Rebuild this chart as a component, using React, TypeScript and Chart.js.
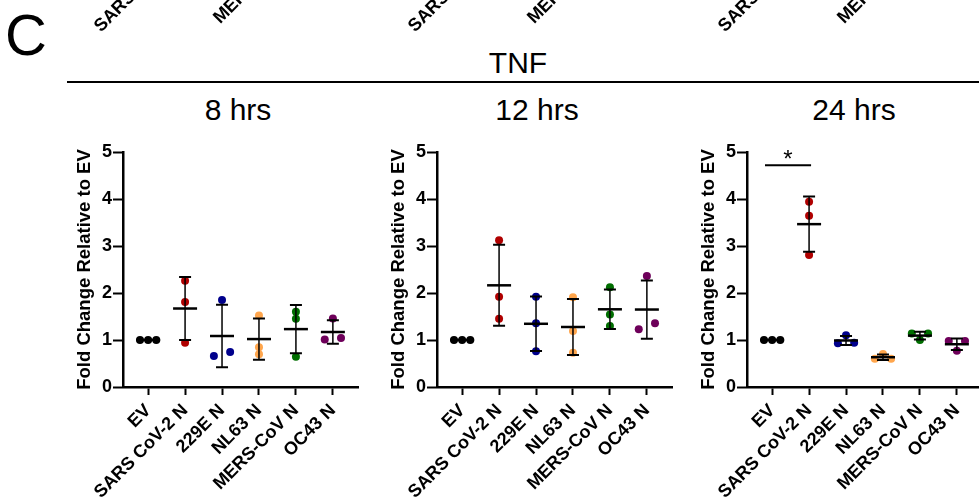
import { useEffect, useRef } from "react";
import { Chart, registerables } from "chart.js";

Chart.register(...registerables);

const FONT = "'Liberation Sans', Arial, Helvetica, sans-serif";

// Groups on the x axis and their dot colours
const categories = ["EV", "SARS CoV-2 N", "229E N", "NL63 N", "MERS-CoV N", "OC43 N"];
const groupColors = ["#000000", "#B00000", "#00008C", "#FFA64D", "#006E00", "#6E005A"];
const yTicks = [0, 1, 2, 3, 4, 5];

// TNF fold change relative to EV, three replicates per group
const tnf8h = [
  [1, 1, 1],
  [2.26, 1.81, 0.94],
  [1.85, 0.66, 0.745],
  [1.52, 0.845, 0.695],
  [1.6, 1.45, 0.645],
  [1.46, 1.01, 1.04],
];
const tnf12h = [
  [1, 1, 1],
  [3.12, 1.92, 1.45],
  [1.92, 1.355, 0.76],
  [1.91, 1.19, 0.73],
  [2.12, 1.54, 1.3],
  [2.36, 1.23, 1.355],
];
const tnf24h = [
  [1, 1, 1],
  [3.94, 3.645, 2.81],
  [1.1, 0.93, 0.94],
  [0.7, 0.6, 0.6],
  [1.0, 1.14, 1.14],
  [0.98, 0.77, 0.98],
];

const panelTitles = ["8 hrs", "12 hrs", "24 hrs"];
const panelData = [tnf8h, tnf12h, tnf24h];
// significance bracket between EV and SARS CoV-2 N at 24 hrs
const sig24h = { from: 0, to: 1, y: 4.72, text: "*" };

// layout
const AXIS_X = [123, 437, 747];
const TITLE_X = [238, 537, 854];
const Y_AXIS_W = 52;
const PLOT_W = 235;
const PLOT_TOP = 152;
const X_AXIS_H = 113;
const CANVAS_H = 500;
const JITTER = 0.22;
const ROW_TOL = 0.13;
const UPPER_ROW_SHIFT = 466;

// horizontal spread for replicates that would overlap
function spreadSlots(vals: number[]): number[] {
  const idx = vals.map((_, i) => i).sort((a, b) => vals[a] - vals[b]);
  const rows: number[][] = [];
  for (const i of idx) {
    const last = rows[rows.length - 1];
    if (last && vals[i] - vals[last[last.length - 1]] < ROW_TOL) last.push(i);
    else rows.push([i]);
  }
  const slots = new Array(vals.length).fill(0);
  for (const row of rows) {
    if (row.length === 2) {
      slots[row[0]] = -1;
      slots[row[1]] = 1;
    } else if (row.length >= 3) {
      const [a, b, c] = row;
      if (vals[b] - vals[a] <= vals[c] - vals[b]) {
        slots[a] = -1;
        slots[b] = 1;
        slots[c] = 0;
      } else {
        slots[a] = 0;
        slots[b] = -1;
        slots[c] = 1;
      }
    }
  }
  return slots;
}

function meanSd(vals: number[]) {
  const m = vals.reduce((s, v) => s + v, 0) / vals.length;
  const v = vals.reduce((s, x) => s + (x - m) * (x - m), 0) / (vals.length - 1);
  return { mean: m, sd: Math.sqrt(v) };
}

// mean line with SD whiskers, drawn over the dots
const meanSdPlugin = {
  id: "meanSd",
  afterDatasetsDraw(chart: any, _args: any, opts: any) {
    const groups: number[][] = opts.groups;
    if (!groups) return;
    const { ctx } = chart;
    const xs = chart.scales.x;
    const ys = chart.scales.y;
    ctx.save();
    ctx.strokeStyle = "#000";
    groups.forEach((vals, gi) => {
      const { mean, sd } = meanSd(vals);
      const x = xs.getPixelForValue(gi);
      const yTop = ys.getPixelForValue(mean + sd);
      const yBot = ys.getPixelForValue(mean - sd);
      const yMean = ys.getPixelForValue(mean);
      ctx.lineWidth = 1.5;
      ctx.beginPath();
      ctx.moveTo(x, yTop);
      ctx.lineTo(x, yBot);
      ctx.stroke();
      ctx.lineWidth = 2;
      ctx.beginPath();
      ctx.moveTo(x - 6, yTop);
      ctx.lineTo(x + 6, yTop);
      ctx.moveTo(x - 6, yBot);
      ctx.lineTo(x + 6, yBot);
      ctx.stroke();
      ctx.lineWidth = 2.5;
      ctx.beginPath();
      ctx.moveTo(x - 12, yMean);
      ctx.lineTo(x + 12, yMean);
      ctx.stroke();
    });
    ctx.restore();
  },
};

// significance bracket with its star
const sigPlugin = {
  id: "sigBracket",
  afterDatasetsDraw(chart: any, _args: any, opts: any) {
    const sig = opts.sig;
    if (!sig) return;
    const { ctx } = chart;
    const xs = chart.scales.x;
    const ys = chart.scales.y;
    const fromPts = chart.data.datasets[sig.from].data.map((p: any) => xs.getPixelForValue(p.x));
    const toPts = chart.data.datasets[sig.to].data.map((p: any) => xs.getPixelForValue(p.x));
    const x1 = Math.min(...fromPts) + 1;
    const x2 = Math.max(...toPts) + 2;
    const y = ys.getPixelForValue(sig.y);
    ctx.save();
    ctx.strokeStyle = "#000";
    ctx.lineWidth = 2;
    ctx.beginPath();
    ctx.moveTo(x1, y);
    ctx.lineTo(x2, y);
    ctx.stroke();
    ctx.fillStyle = "#000";
    ctx.font = `24px ${FONT}`;
    ctx.textAlign = "center";
    ctx.textBaseline = "alphabetic";
    ctx.fillText(sig.text, (x1 + x2) / 2, y + 2);
    ctx.restore();
  },
};

// tails of the x labels belonging to the row of panels above, cut by the top edge
const upperLabelsPlugin = {
  id: "upperLabels",
  afterDraw(chart: any) {
    const xs = chart.scales.x;
    const items = xs.getLabelItems(chart.chartArea);
    const { ctx } = chart;
    ctx.save();
    for (const item of items) {
      const o = item.options;
      ctx.save();
      ctx.translate(o.translation[0], o.translation[1] - UPPER_ROW_SHIFT);
      ctx.rotate(o.rotation);
      ctx.font = item.font.string;
      ctx.fillStyle = o.color;
      ctx.textAlign = o.textAlign;
      ctx.textBaseline = o.textBaseline;
      const lines = Array.isArray(item.label) ? item.label : [item.label];
      let yOff = item.textOffset;
      for (const line of lines) {
        ctx.fillText(line, 0, yOff);
        yOff += item.font.lineHeight;
      }
      ctx.restore();
    }
    ctx.restore();
  },
};

function Panel({ index }: { index: number }) {
  const ref = useRef<HTMLCanvasElement>(null);
  const groups = panelData[index];
  const width = Y_AXIS_W + PLOT_W + 6;

  useEffect(() => {
    if (!ref.current) return;
    const datasets = groups.map((vals, gi) => {
      const slots = spreadSlots(vals);
      return {
        label: categories[gi],
        data: vals.map((v, k) => ({ x: gi + slots[k] * JITTER, y: v })),
        backgroundColor: groupColors[gi],
        borderWidth: 0,
        pointRadius: 4,
        pointHoverRadius: 4,
      };
    });
    const tickFont = { family: FONT, size: 18, weight: "bold" as const };
    const chart = new Chart(ref.current, {
      type: "scatter",
      data: { datasets },
      plugins: [meanSdPlugin, sigPlugin, upperLabelsPlugin],
      options: {
        animation: false,
        responsive: false,
        maintainAspectRatio: false,
        layout: { padding: { top: PLOT_TOP, right: 6, left: 0, bottom: 0 } },
        plugins: {
          legend: { display: false },
          tooltip: { enabled: false },
          meanSd: { groups },
          sigBracket: { sig: index === 2 ? sig24h : null },
        } as any,
        scales: {
          x: {
            type: "linear",
            min: -0.68,
            max: 5.68,
            afterBuildTicks: (s: any) => {
              s.ticks = categories.map((_, i) => ({ value: i }));
            },
            afterFit: (s: any) => {
              s.height = X_AXIS_H;
            },
            grid: {
              display: true,
              drawOnChartArea: false,
              drawTicks: true,
              tickLength: 8,
              tickWidth: 2,
              tickColor: "#000",
            },
            border: { display: true, color: "#000", width: 2.5 },
            ticks: {
              autoSkip: false,
              minRotation: 45,
              maxRotation: 45,
              padding: 5,
              color: "#000",
              font: tickFont,
              callback: (v: any) => categories[Math.round(v)] ?? "",
            },
          },
          y: {
            min: 0,
            max: 5,
            afterBuildTicks: (s: any) => {
              s.ticks = yTicks.map((v) => ({ value: v }));
            },
            afterFit: (s: any) => {
              s.width = Y_AXIS_W;
            },
            grid: {
              display: true,
              drawOnChartArea: false,
              drawTicks: true,
              tickLength: 10,
              tickWidth: 2,
              tickColor: "#000",
            },
            border: { display: true, color: "#000", width: 2.5 },
            ticks: { padding: 1, color: "#000", font: tickFont },
            title: {
              display: true,
              text: "Fold Change Relative to EV",
              color: "#000",
              font: { family: FONT, size: 18.5, weight: "bold" },
              padding: { top: 3, bottom: 0 },
            },
          },
        },
      } as any,
    });
    return () => chart.destroy();
  }, [index]);

  return (
    <canvas
      ref={ref}
      width={width}
      height={CANVAS_H}
      style={{
        position: "absolute",
        left: AXIS_X[index] - Y_AXIS_W,
        top: 0,
        width,
        height: CANVAS_H,
      }}
    />
  );
}

export default function App() {
  return (
    <div
      style={{
        position: "fixed",
        left: 0,
        top: 0,
        width: 979,
        height: 500,
        overflow: "hidden",
        background: "#fff",
        fontFamily: FONT,
        color: "#000",
      }}
    >
      <div style={{ position: "absolute", left: 5, top: 6, fontSize: 58, lineHeight: "58px" }}>C</div>
      <div
        style={{
          position: "absolute",
          left: 418,
          width: 200,
          top: 47.5,
          textAlign: "center",
          fontSize: 30,
          lineHeight: "30px",
        }}
      >
        TNF
      </div>
      <div style={{ position: "absolute", left: 67, top: 80.5, width: 930, height: 2.2, background: "#000" }} />
      {panelTitles.map((t, i) => (
        <div
          key={t}
          style={{
            position: "absolute",
            left: TITLE_X[i] - 100,
            width: 200,
            top: 94.5,
            textAlign: "center",
            fontSize: 30,
            lineHeight: "30px",
          }}
        >
          {t}
        </div>
      ))}
      {panelTitles.map((t, i) => (
        <Panel key={t} index={i} />
      ))}
    </div>
  );
}
